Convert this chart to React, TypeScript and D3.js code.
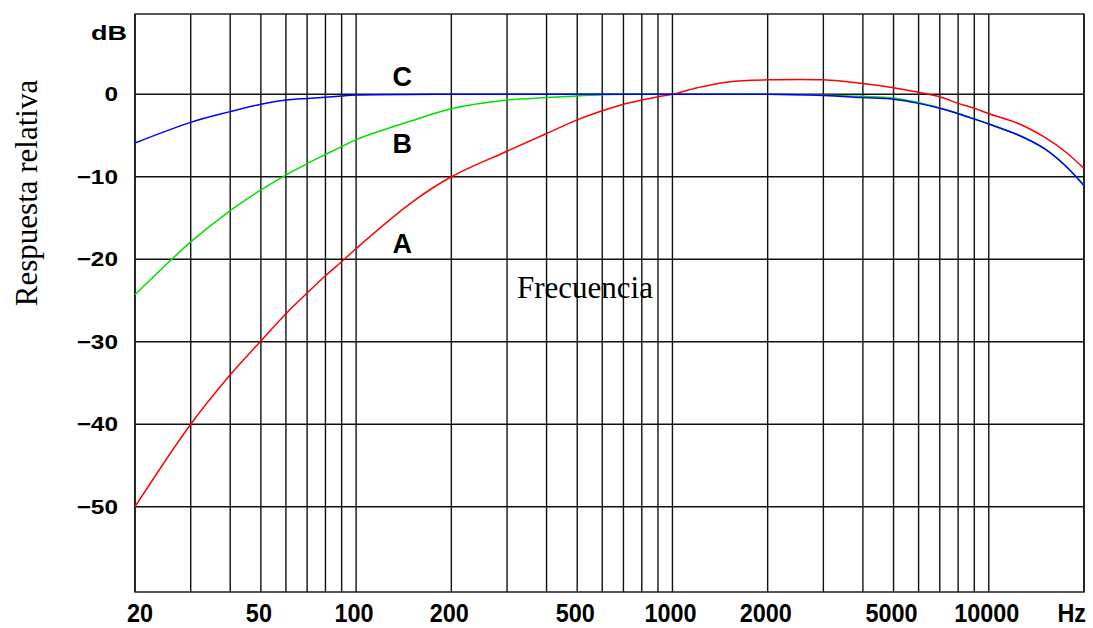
import React from 'react'
import * as d3 from 'd3'

// frequency grid (Hz) and axis ticks
const gridFreqs = [20, 30, 40, 50, 60, 70, 80, 90, 100, 200, 300, 400, 500, 600, 700, 800, 900,
  1000, 2000, 3000, 4000, 5000, 6000, 7000, 8000, 9000, 10000, 20000]
const freqTicks = [20, 50, 100, 200, 500, 1000, 2000, 5000, 10000]
const dbTicks = [0, -10, -20, -30, -40, -50]

// curve A (red)
const freqA = [20, 30, 40, 50, 60, 70, 80, 90, 100, 150, 200, 300, 400, 500, 600, 700, 800, 900, 1000,
  1200, 1500, 2000, 3000, 4000, 5000, 6000, 7000, 8000, 9000, 10000, 12500, 15000, 17500, 20000]
const dbA = [-50, -40, -34.0, -29.9, -26.6, -24.1, -22.0, -20.3, -18.7, -13.1, -10.0, -6.9, -4.75, -3.1, -2.0, -1.2, -0.7, -0.3, 0,
  0.8, 1.5, 1.75, 1.75, 1.3, 0.8, 0.25, -0.3, -1.1, -1.7, -2.35, -3.6, -5.2, -7.0, -9.0]

// curve B (green)
const freqB = [20, 30, 40, 50, 60, 70, 80, 90, 100, 150, 200, 300, 400, 500, 600, 700, 1000,
  2000, 3000, 4000, 5000, 6000, 7000, 8000, 9000, 10000, 12500, 15000, 17500, 20000]
const dbB = [-24.3, -17.9, -14.1, -11.6, -9.8, -8.4, -7.3, -6.35, -5.5, -3.2, -1.75, -0.7, -0.4, -0.2, -0.05, 0, 0,
  0, -0.1, -0.25, -0.45, -1.0, -1.65, -2.3, -3.0, -3.6, -5.0, -6.6, -8.7, -11.0]

// curve C (blue)
const freqC = [20, 30, 40, 50, 60, 70, 80, 90, 100, 200, 500, 1000, 2000, 3000, 4000, 5000, 6000,
  7000, 8000, 9000, 10000, 12500, 15000, 17500, 20000]
const dbC = [-5.9, -3.4, -2.1, -1.2, -0.7, -0.5, -0.35, -0.2, -0.1, 0, 0, 0, 0, -0.15, -0.4, -0.6, -1.1,
  -1.7, -2.35, -3.0, -3.6, -5.0, -6.6, -8.7, -11.1]

// curve names, anchored in (Hz, dB)
const curveNames = ['A', 'B', 'C']
const nameFreq = [140, 140, 140]
const nameDb = [-19.2, -7.1, 1.0]

const W = 1093
const H = 628
const left = 135
const right = 1084
const top = 14
const bottom = 592

const boldFont = '"Liberation Sans", Arial, sans-serif'
const serifFont = '"Liberation Serif", "Times New Roman", serif'

export default function App() {
  const x = d3.scaleLog().domain([20, 20000]).range([left, right])
  const y = d3.scaleLinear().domain([0, -50]).range([94.3, 506.7])

  const line = d3.line<[number, number]>()
    .x(d => x(d[0]))
    .y(d => y(d[1]))
    .curve(d3.curveCatmullRom.alpha(0.5))

  const series = [
    {f: freqA, db: dbA, color: '#ff0000'},
    {f: freqB, db: dbB, color: '#00e000'},
    {f: freqC, db: dbC, color: '#0000ff'}
  ]

  return (
    <svg width={W} height={H} style={{position: 'absolute', left: 0, top: 0, background: '#fff'}}>
      <rect x={0} y={0} width={W} height={H} fill="#fff" />

      {/* grid */}
      <g stroke="#111" strokeWidth={1.4}>
        {gridFreqs.map(f => (
          <line key={'v' + f} x1={x(f)} x2={x(f)} y1={top} y2={bottom} />
        ))}
        {dbTicks.map(d => (
          <line key={'h' + d} x1={left} x2={right} y1={y(d)} y2={y(d)} />
        ))}
        <rect x={left} y={top} width={right - left} height={bottom - top} fill="none" />
      </g>

      {/* curves */}
      {series.map((s, i) => (
        <path
          key={i}
          d={line(s.f.map((f, j) => [f, s.db[j]] as [number, number])) || ''}
          fill="none"
          stroke={s.color}
          strokeWidth={1.5}
        />
      ))}

      {/* curve names */}
      {curveNames.map((n, i) => (
        <text
          key={n}
          x={x(nameFreq[i])}
          y={y(nameDb[i])}
          textAnchor="middle"
          fontFamily={boldFont}
          fontWeight="bold"
          fontSize={27}
          fill="#000"
        >
          {n}
        </text>
      ))}

      {/* y tick labels */}
      {dbTicks.map(d => (
        <text
          key={'yl' + d}
          transform={`translate(118,${y(d) + 7}) scale(1.22,1)`}
          textAnchor="end"
          fontFamily={boldFont}
          fontWeight="bold"
          fontSize={20}
          fill="#000"
        >
          {d === 0 ? '0' : '\u2212' + Math.abs(d)}
        </text>
      ))}
      <text
        transform="translate(127,40) scale(1.35,1)"
        textAnchor="end"
        fontFamily={boldFont}
        fontWeight="bold"
        fontSize={20}
        fill="#000"
      >
        dB
      </text>

      {/* x tick labels */}
      {freqTicks.map((f, i) => (
        <text
          key={'xl' + f}
          transform={`translate(${x(f) + (i === 0 ? 5 : -2)},621.5) scale(0.9,1)`}
          textAnchor="middle"
          fontFamily={boldFont}
          fontWeight="bold"
          fontSize={26}
          fill="#000"
        >
          {f}
        </text>
      ))}
      <text
        transform="translate(1086,621.5) scale(0.9,1)"
        textAnchor="end"
        fontFamily={boldFont}
        fontWeight="bold"
        fontSize={26}
        fill="#000"
      >
        Hz
      </text>

      {/* axis titles */}
      <text x={517} y={298} fontFamily={serifFont} fontSize={31} fill="#000">
        Frecuencia
      </text>
      <text
        transform="translate(37,193) rotate(-90)"
        textAnchor="middle"
        fontFamily={serifFont}
        fontSize={31}
        fill="#000"
      >
        Respuesta relativa
      </text>
    </svg>
  )
}
